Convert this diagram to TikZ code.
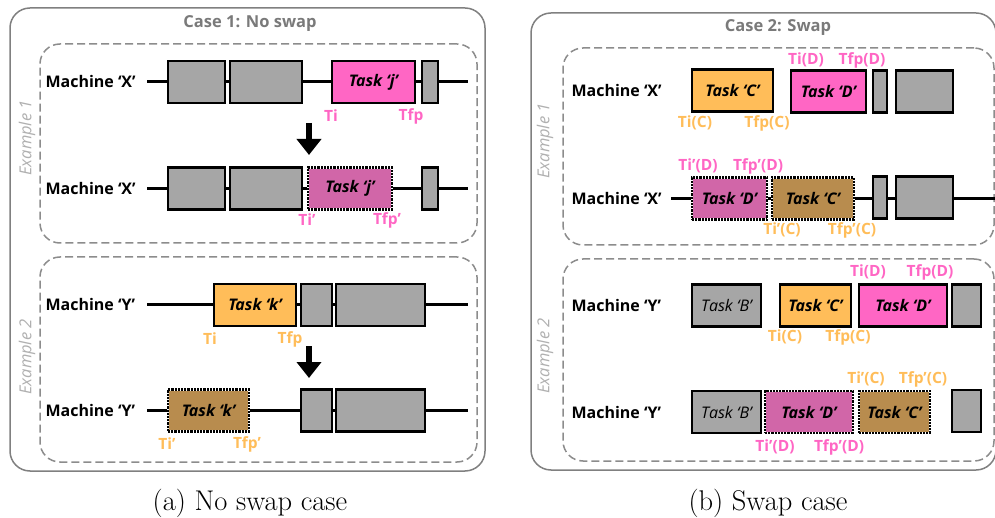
\documentclass[tikz,border=0pt]{standalone}
\usepackage{fontspec}
\usepackage{tikz}
\usetikzlibrary{arrows.meta, positioning}
\newfontfamily\osans{Open Sans}
\definecolor{taskpink}{HTML}{FF66C4}
\definecolor{movedpink}{HTML}{D166A8}
\definecolor{taskorange}{HTML}{FFBD59}
\definecolor{movedbrown}{HTML}{B88C4E}
\definecolor{busygray}{HTML}{A6A6A6}
\definecolor{boxgray}{HTML}{808080}
\definecolor{dashgray}{HTML}{8C8C8C}
\definecolor{exgray}{HTML}{B0B0B0}
\definecolor{titlegray}{HTML}{7A7A7A}

\begin{document}
\begin{tikzpicture}[
    x=1pt, y=-1pt,
    task/.style={draw, line width=2.2pt, minimum height=42pt, inner sep=0pt, font=\osans\bfseries\itshape\fontsize{16}{18}\selectfont},
    busy/.style={task, fill=busygray},
    moved/.style={task, draw=white, postaction={draw=black, densely dotted, line width=2.2pt}},
    machine/.style={anchor=west, font=\osans\bfseries\fontsize{16}{18}\selectfont},
    tlabel/.style={font=\osans\bfseries\fontsize{15.5}{17}\selectfont},
    bigbox/.style={draw=boxgray, line width=1.5pt, rounded corners=20pt},
    exbox/.style={draw=dashgray, dash pattern=on 8pt off 4pt, line width=1.5pt, rounded corners=20pt},
    exlabel/.style={rotate=90, text=exgray, font=\osans\itshape\fontsize{16.5}{18}\selectfont},
    casetitle/.style={text=titlegray, font=\osans\bfseries\fontsize{16.5}{18}\selectfont},
    caption/.style={font=\fontsize{28.5}{32}\selectfont},
    timeline/.style={line width=3pt},
    arrow/.style={-{Triangle[width=24pt,length=16pt]}, line width=6pt}
]
\fill[white] (0,0) rectangle (995,518);
\useasboundingbox (0,0) rectangle (995,518);

% Case 1 (left)
\node[bigbox, minimum width=475pt, minimum height=463pt] (case1) at (247.5,239.5) {};
\node[casetitle] (title1) at (250,24) {Case 1: No swap};
\node[exbox, minimum width=437pt, minimum height=199pt] (ex11) at (258.5,143.5) {};
\node[exbox, minimum width=437pt, minimum height=205pt] (ex12) at (258.5,359.5) {};
\node[exlabel] (ex11lbl) at (27,138) {Example 1};
\node[exlabel] (ex12lbl) at (27,357) {Example 2};

% Example 1, machine X
\node[machine] (mx1) at (42,82) {Machine ‘X’};
\coordinate (l1a) at (147,82);
\coordinate (l1b) at (468,82);
\draw[timeline] (l1a) -- (l1b);
\node[busy, minimum width=57pt] (g11) at (196.5,82) {};
\node[busy, minimum width=72pt] (g12) at (266,82) {};
\node[task, fill=taskpink, minimum width=83pt] (tj) at (373.5,82) {Task ‘j’};
\node[busy, minimum width=16pt] (g13) at (430,82) {};
\node[tlabel, text=taskpink] (tj-i) at (331,116) {Ti};
\node[tlabel, text=taskpink] (tj-f) at (411,116) {Tfp};

\coordinate (a1s) at (309,123);
\coordinate (a1e) at (309,155);
\draw[arrow] (a1s) -- (a1e);

\node[machine] (mx2) at (42,188.5) {Machine ‘X’};
\coordinate (l2a) at (147,188.5);
\coordinate (l2b) at (468,188.5);
\draw[timeline] (l2a) -- (l2b);
\node[busy, minimum width=57pt] (g21) at (196.5,188.5) {};
\node[busy, minimum width=72pt] (g22) at (266,188.5) {};
\node[moved, fill=movedpink, minimum width=84pt] (tj2) at (350,188.5) {Task ‘j’};
\node[busy, minimum width=16pt] (g23) at (430,188.5) {};
\node[tlabel, text=taskpink] (tj2-i) at (307,220) {Ti’};
\node[tlabel, text=taskpink] (tj2-f) at (387,220) {Tfp’};

% Example 2, machine Y
\node[machine] (my1) at (42,305) {Machine ‘Y’};
\coordinate (l3a) at (147,305);
\coordinate (l3b) at (468,305);
\draw[timeline] (l3a) -- (l3b);
\node[task, fill=taskorange, minimum width=82pt] (tk) at (255,305) {Task ‘k’};
\node[busy, minimum width=31pt] (g31) at (316.5,305) {};
\node[busy, minimum width=89pt] (g32) at (380.5,305) {};
\node[tlabel, text=taskorange] (tk-i) at (210,339) {Ti};
\node[tlabel, text=taskorange] (tk-f) at (290,339) {Tfp};

\coordinate (a2s) at (309,346);
\coordinate (a2e) at (309,378);
\draw[arrow] (a2s) -- (a2e);

\node[machine] (my2) at (42,410.5) {Machine ‘Y’};
\coordinate (l4a) at (147,410.5);
\coordinate (l4b) at (468,410.5);
\draw[timeline] (l4a) -- (l4b);
\node[moved, fill=movedbrown, minimum width=81pt] (tk2) at (208.5,410.5) {Task ‘k’};
\node[busy, minimum width=31pt] (g41) at (316.5,410.5) {};
\node[busy, minimum width=89pt] (g42) at (380.5,410.5) {};
\node[tlabel, text=taskorange] (tk2-i) at (167,444) {Ti’};
\node[tlabel, text=taskorange] (tk2-f) at (247,444) {Tfp’};

\node[caption] (cap1) at (250,503) {(a) No swap case};

% Case 2 (right)
\node[bigbox, minimum width=465pt, minimum height=457pt] (case2) at (763.5,241.5) {};
\node[casetitle] (title2) at (778,28) {Case 2: Swap};
\node[exbox, minimum width=431pt, minimum height=197pt] (ex21) at (778.5,146.5) {};
\node[exbox, minimum width=431pt, minimum height=202pt] (ex22) at (778.5,360) {};
\node[exlabel] (ex21lbl) at (545,141) {Example 1};
\node[exlabel] (ex22lbl) at (545,356) {Example 2};

% Example 1, machine X
\node[machine] (mx3) at (568,91) {Machine ‘X’};
\node[task, fill=taskorange, minimum width=81pt] (tc) at (732.5,90.5) {Task ‘C’};
\node[task, fill=taskpink, minimum width=75pt] (td) at (828.5,91.5) {Task ‘D’};
\node[busy, minimum width=14pt] (g51) at (880,91.5) {};
\node[busy, minimum width=57pt] (g52) at (924.5,91.5) {};
\node[tlabel, text=taskpink] (td-i) at (806,60) {Ti(D)};
\node[tlabel, text=taskpink] (td-f) at (862,60) {Tfp(D)};
\node[tlabel, text=taskorange] (tc-i) at (695,123) {Ti(C)};
\node[tlabel, text=taskorange] (tc-f) at (767,123) {Tfp(C)};

\node[machine] (mx4) at (568,198.5) {Machine ‘X’};
\coordinate (l6a) at (671,198.5);
\coordinate (l6b) at (995,198.5);
\draw[timeline] (l6a) -- (l6b);
\node[moved, fill=movedpink, minimum width=75pt] (td2) at (729.5,198.5) {Task ‘D’};
\node[moved, fill=movedbrown, minimum width=82pt] (tc2) at (813,198.5) {Task ‘C’};
\node[busy, minimum width=14pt] (g61) at (880,197.5) {};
\node[busy, minimum width=57pt] (g62) at (924.5,197.5) {};
\node[tlabel, text=taskpink] (td2-i) at (698,166) {Ti’(D)};
\node[tlabel, text=taskpink] (td2-f) at (758,166) {Tfp’(D)};
\node[tlabel, text=taskorange] (tc2-i) at (782,230) {Ti’(C)};
\node[tlabel, text=taskorange] (tc2-f) at (852,230) {Tfp’(C)};

% Example 2, machine Y
\node[machine] (my3) at (568,305.5) {Machine ‘Y’};
\node[busy, minimum width=69pt, font=\osans\itshape\fontsize{16}{18}\selectfont] (tb) at (726.5,305.5) {Task ‘B’};
\node[task, fill=taskorange, minimum width=71pt] (tc3) at (815.5,305.5) {Task ‘C’};
\node[task, fill=taskpink, minimum width=88pt] (td3) at (903,305.5) {Task ‘D’};
\node[busy, minimum width=29pt] (g71) at (966.5,305.5) {};
\node[tlabel, text=taskpink] (td3-i) at (868,272) {Ti(D)};
\node[tlabel, text=taskpink] (td3-f) at (930,272) {Tfp(D)};
\node[tlabel, text=taskorange] (tc3-i) at (785,337) {Ti(C)};
\node[tlabel, text=taskorange] (tc3-f) at (848,337) {Tfp(C)};

\node[machine] (my4) at (568,412) {Machine ‘Y’};
\node[busy, minimum width=69pt, font=\osans\itshape\fontsize{16}{18}\selectfont] (tb4) at (726.5,412) {Task ‘B’};
\node[moved, fill=movedpink, minimum width=88pt] (td4) at (809,412) {Task ‘D’};
\node[moved, fill=movedbrown, minimum width=71pt] (tc4) at (894.5,412) {Task ‘C’};
\node[busy, minimum width=29pt] (g81) at (966.5,411) {};
\node[tlabel, text=taskorange] (tc4-i) at (866,379) {Ti’(C)};
\node[tlabel, text=taskorange] (tc4-f) at (923,379) {Tfp’(C)};
\node[tlabel, text=taskpink] (td4-i) at (775,447) {Ti’(D)};
\node[tlabel, text=taskpink] (td4-f) at (839,447) {Tfp’(D)};

\node[caption] (cap2) at (768,503) {(b) Swap case};

\end{tikzpicture}
\end{document}
